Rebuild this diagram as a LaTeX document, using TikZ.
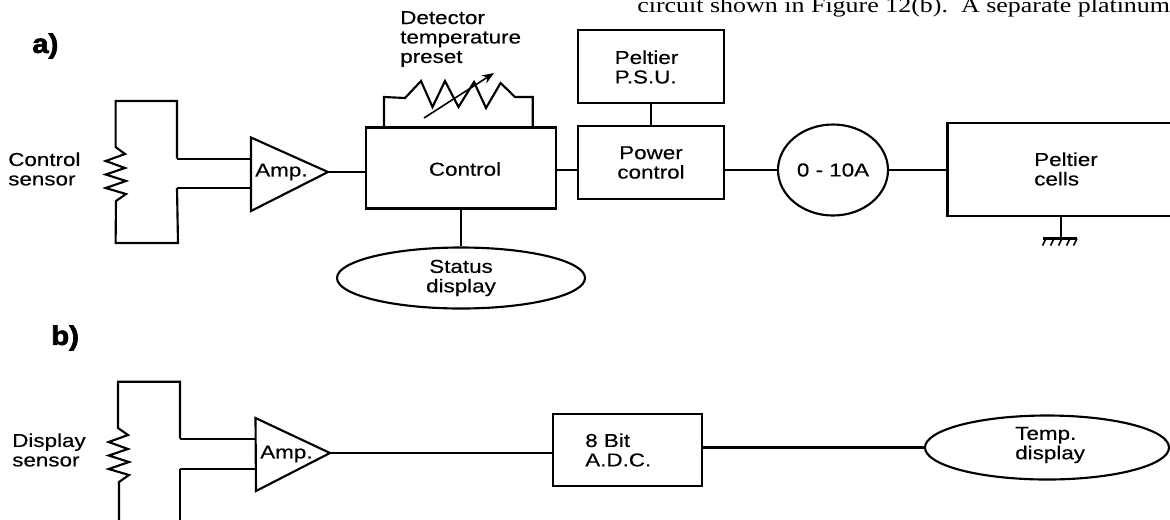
\documentclass[tikz,border=0pt]{standalone}
\usepackage{fontspec}
\setmainfont[FakeStretch=1.2,FakeBold=0.3]{Liberation Sans}
\newfontfamily\bodyserif[FakeStretch=1.217]{Liberation Serif}
\newfontfamily\headbold[FakeBold=2.5,FakeStretch=1.1]{Liberation Sans Bold}
\usetikzlibrary{shapes.geometric,arrows.meta}
\tikzset{
  wire/.style={line width=1.6pt,line join=miter},
  thinwire/.style={line width=1.2pt},
  labelnode/.style={inner sep=0pt,align=left,font=\fontsize{14}{14.6}\selectfont},
  blockbox/.style={draw,line width=1.6pt,inner sep=0pt,align=center,font=\fontsize{14}{14.6}\selectfont},
  oval/.style={draw,ellipse,line width=1.6pt,inner sep=0pt,align=center,font=\fontsize{14}{14.6}\selectfont},
  headlabel/.style={inner sep=0pt,font=\headbold\fontsize{20}{21}\selectfont},
}
\begin{document}
\begin{tikzpicture}[x=0.75pt,y=-0.75pt]
\clip (0,0) rectangle (1170,519);
\fill[white] (0,0) rectangle (1170,519);
% page text
\node[inner sep=0pt,anchor=base west,font=\bodyserif\fontsize{16}{17}\selectfont] (body) at (637,12) {circuit shown in Figure 12(b).\ \ A separate platinum};
% a)
\node[headlabel,anchor=west] (la) at (32,46) {a)};
\node[labelnode,anchor=west] (cs) at (8,169) {Control\\sensor};
% sensor a
\coordinate (s1) at (177,158.7);
\coordinate (s2) at (177,188);
\coordinate (a1) at (251,137.5);
\coordinate (a2) at (251,211);
\coordinate (a3) at (328,172);
\draw[wire] (s1) -- (177,101) -- (115.6,101) -- (115.6,147) -- (125,154) -- (105.7,161) -- (125,168) -- (105.7,174.5) -- (126,181) -- (105.7,188) -- (126,194) -- (116,201) -- (115.6,243) -- (178,243) -- (s2);
\draw[wire] (a1) -- (a3) -- (a2) -- cycle;
\node[labelnode,anchor=west] (ampa) at (255,172) {Amp.};
\draw[wire] (s1) -- (a1 |- s1);
\draw[wire] (s2) -- (a1 |- s2);
\node[blockbox,minimum width=142.5pt,minimum height=60.75pt] (ctrl) at (461,168) {};
\node[labelnode,anchor=center] (ctrlt) at (465,169) {Control};
\draw[wire] (a3) -- (ctrl.west |- a3);
% preset
\node[labelnode,anchor=west,align=left] (dt) at (400,39) {Detector\\temperature\\preset};
\coordinate (p1) at (384,127.5);
\coordinate (p2) at (532.7,127.5);
\draw[wire] (p1) -- (384,97) -- (405,98) -- (421,81) -- (432.5,107) -- (445,81) -- (458.5,107) -- (474,82) -- (486,108) -- (500.6,83) -- (515,97) -- (532.7,97) -- (p2);
\coordinate (arr1) at (424,118);
\coordinate (arr2) at (494,73);
\draw[thinwire,-{Stealth[length=9pt,width=7pt]}] (arr1) -- (arr2);
% status
\node[oval,minimum width=186pt,minimum height=45.75pt] (st) at (461,278) {Status\\display};
\draw[wire] (ctrl.south -| st.north) -- (st.north);
% power
\node[blockbox,minimum width=109.9pt,minimum height=54.75pt] (psu) at (651,66.5) {};
\node[labelnode,anchor=west] (psut) at (614.5,67) {Peltier\\P.S.U.};
\node[blockbox,minimum width=109.9pt,minimum height=54.75pt] (pwr) at (651,162.5) {Power\\control};
\draw[wire] (psu.south) -- (pwr.north);
\draw[wire] (ctrl.east |- 0,170) -- (pwr.west |- 0,170);
\node[oval,minimum width=82.5pt,minimum height=68.25pt] (amm) at (833,170) {0 - 10A};
\draw[wire] (pwr.east |- amm.west) -- (amm.west);
\node[blockbox,minimum width=225pt,minimum height=69.75pt] (pc) at (1097.5,169.5) {};
\node[labelnode,anchor=west] (pct) at (1034,169) {Peltier\\cells};
\draw[wire] (amm.east) -- (pc.west |- amm.east);
% ground
\coordinate (g0) at (1060.7,216);
\coordinate (g1) at (1060.7,238.5);
\draw[wire] (g0) -- (g1);
\draw[wire] (1043,238.5) -- (1077,238.5);
\foreach \hx in {1046,1054,1062,1070,1077}{\draw[thinwire] (\hx,238.5) -- (\hx-3.5,245.5);}
% b)
\node[headlabel,anchor=west] (lb) at (51,338) {b)};
\node[labelnode,anchor=west] (ds) at (12,450) {Display\\sensor};
\coordinate (t1) at (180,438.7);
\coordinate (t2) at (180,469);
\coordinate (b1) at (255.5,418);
\coordinate (b2) at (256,491);
\coordinate (b3) at (330,453);
\draw[wire] (t1) -- (180,381.7) -- (118,381.7) -- (118,428) -- (128,435) -- (108.7,442) -- (128,449) -- (108.7,455.5) -- (129,462) -- (108.7,469) -- (129,475) -- (119,482) -- (119,525);
\draw[wire] (t2) -- (180,525);
\draw[wire] (b1) -- (b3) -- (b2) -- cycle;
\node[labelnode,anchor=west] (ampb) at (260,454) {Amp.};
\draw[wire] (t1) -- (b1 |- t1);
\draw[wire] (t2) -- (b1 |- t2);
\node[blockbox,minimum width=111.75pt,minimum height=54pt] (adc) at (627.5,450) {};
\node[labelnode,anchor=west] (adct) at (585,450) {8 Bit\\A.D.C.};
\draw[wire] (b3) -- (adc.west |- b3);
\node[oval,minimum width=183pt,minimum height=48pt] (td) at (1047,447.5) {};
\node[labelnode,anchor=west] (tdt) at (1015,445) {Temp.\\display};
\draw[wire] (adc.east |- td.west) -- (td.west);
\end{tikzpicture}
\end{document}
